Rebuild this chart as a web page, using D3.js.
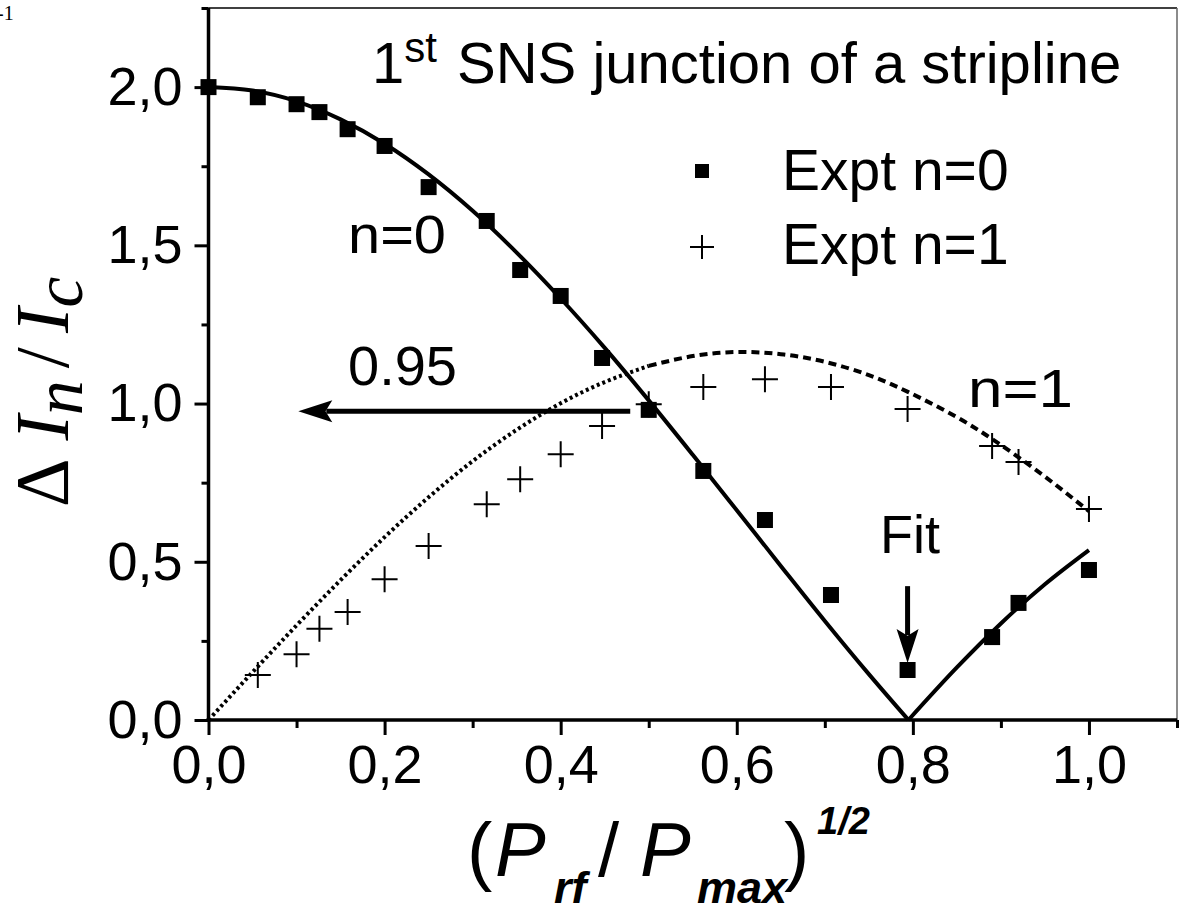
<!DOCTYPE html>
<html>
<head>
<meta charset="utf-8">
<script src="https://cdn.jsdelivr.net/npm/d3@7"></script>
<style>
  body { margin: 0; background: #fff; }
  svg { display: block; }
  .tick text { font-family: Arial, "Liberation Sans", sans-serif; font-size: 54px; fill: #000; }
</style>
</head>
<body>
<div id="chart"></div>
<script>
// measured points (x = sqrt(Prf/Pmax))
const xExpt = [0, 0.056, 0.1, 0.126, 0.158, 0.2, 0.25, 0.316, 0.354, 0.4, 0.447, 0.5, 0.562, 0.632, 0.707, 0.794, 0.89, 0.92, 1.0];
const exptN0 = [2.0, 1.968, 1.946, 1.921, 1.867, 1.814, 1.684, 1.577, 1.422, 1.340, 1.144, 0.98, 0.787, 0.632, 0.395, 0.158, 0.262, 0.37, 0.474];
const xExptN1 = [0.056, 0.1, 0.126, 0.158, 0.2, 0.25, 0.316, 0.354, 0.4, 0.447, 0.5, 0.562, 0.632, 0.707, 0.794, 0.89, 0.92, 1.0];
const exptN1 = [0.142, 0.208, 0.288, 0.341, 0.445, 0.55, 0.682, 0.761, 0.840, 0.929, 0.998, 1.052, 1.077, 1.052, 0.983, 0.866, 0.815, 0.667];

// fit curves
const xFit = [0, 0.05, 0.1, 0.15, 0.2, 0.25, 0.3, 0.35, 0.4, 0.45, 0.5, 0.55, 0.6, 0.65, 0.7, 0.75, 0.795, 0.85, 0.9, 0.95, 1.0];
const fitN0 = [2.0, 1.989, 1.955, 1.898, 1.821, 1.724, 1.609, 1.477, 1.332, 1.176, 1.010, 0.838, 0.663, 0.487, 0.313, 0.145, 0.0, 0.166, 0.305, 0.429, 0.537];
const fitN1 = [0, 0.151, 0.299, 0.442, 0.578, 0.704, 0.818, 0.917, 1.001, 1.068, 1.119, 1.150, 1.163, 1.156, 1.132, 1.090, 1.036, 0.957, 0.869, 0.769, 0.660];

const xTicks = [0, 0.2, 0.4, 0.6, 0.8, 1.0];
const yTicks = [0, 0.5, 1.0, 1.5, 2.0];

// annotation arrows (data coords)
const arrow095 = [[0.479, 0.976], [0.102, 0.976]];
const arrowFit = [[0.794, 0.423], [0.794, 0.18]];

const width = 1182, height = 911;
const font = 'Arial, "Liberation Sans", sans-serif';

const x = d3.scaleLinear().domain([0, 1.1]).range([208.5, 1177]);
const y = d3.scaleLinear().domain([0, 2.25]).range([720, 8]);
const fmt = d => d3.format(".1f")(d).replace(".", ",");

const svg = d3.create("svg")
    .attr("width", width)
    .attr("height", height);

// frame (top + right)
svg.append("line")
    .attr("x1", x(0)).attr("x2", x(1.1))
    .attr("y1", y(2.25)).attr("y2", y(2.25))
    .attr("stroke", "#000").attr("stroke-width", 1.5);
svg.append("line")
    .attr("x1", x(1.1)).attr("x2", x(1.1))
    .attr("y1", y(2.25)).attr("y2", y(0))
    .attr("stroke", "#666").attr("stroke-width", 1.5);

// minor ticks
svg.append("g")
    .attr("transform", `translate(0,${y(0)})`)
    .call(d3.axisBottom(x).tickValues(d3.range(0.1, 1.15, 0.2)).tickSize(8).tickFormat(""))
    .call(g => g.select(".domain").remove())
    .selectAll("line").attr("stroke-width", 3);
svg.append("g")
    .attr("transform", `translate(${x(0)},0)`)
    .call(d3.axisLeft(y).tickValues(d3.range(0.25, 2.3, 0.5)).tickSize(7).tickFormat(""))
    .call(g => g.select(".domain").remove())
    .selectAll("line").attr("stroke-width", 3);

// main axes
const xAxis = svg.append("g")
    .attr("transform", `translate(0,${y(0)})`)
    .call(d3.axisBottom(x).tickValues(xTicks).tickFormat(fmt).tickSize(15).tickSizeOuter(0).tickPadding(10));
const yAxis = svg.append("g")
    .attr("transform", `translate(${x(0)},0)`)
    .call(d3.axisLeft(y).tickValues(yTicks).tickFormat(fmt).tickSize(14).tickSizeOuter(0).tickPadding(12));
[xAxis, yAxis].forEach(g => {
    g.selectAll("line").attr("stroke-width", 3);
    g.select(".domain").attr("stroke-width", 3.5);
    g.selectAll("text").attr("font-family", null).attr("font-size", null);
});
xAxis.select(".domain").attr("d", `M${x(0) - 2},0H${x(1.1)}`);
yAxis.select(".domain").attr("d", `M0,${y(2.25)}V${y(0) + 2}`);

// fit n=0 (solid), split at the zero so the V stays sharp
const line = d3.line().x(d => x(d[0])).y(d => y(d[1])).curve(d3.curveMonotoneX);
const fit0 = xFit.map((v, i) => [v, fitN0[i]]);
const zeroIdx = fitN0.indexOf(0);
[fit0.slice(0, zeroIdx + 1), fit0.slice(zeroIdx)].forEach(seg => {
    svg.append("path")
        .attr("d", line(seg))
        .attr("fill", "none")
        .attr("stroke", "#000")
        .attr("stroke-width", 4);
});

// fit n=1 (dotted, coarser dashes towards the end)
const fit1 = xFit.map((v, i) => [v, fitN1[i]]);
const lineSmooth = d3.line().x(d => x(d[0])).y(d => y(d[1])).curve(d3.curveNatural);
svg.append("path")
    .attr("d", lineSmooth(fit1.filter(d => d[0] <= 0.5)))
    .attr("fill", "none")
    .attr("stroke", "#000")
    .attr("stroke-width", 4)
    .attr("stroke-dasharray", "3,3");
svg.append("path")
    .attr("d", lineSmooth(fit1.filter(d => d[0] >= 0.5)))
    .attr("fill", "none")
    .attr("stroke", "#000")
    .attr("stroke-width", 4)
    .attr("stroke-dasharray", "8,5");

// expt n=0 squares
const sq = 16;
svg.append("g")
    .selectAll("rect")
    .data(xExpt.map((v, i) => [v, exptN0[i]]))
    .enter().append("rect")
    .attr("x", d => x(d[0]) - sq / 2)
    .attr("y", d => y(d[1]) - sq / 2)
    .attr("width", sq)
    .attr("height", sq)
    .attr("fill", "#000");

// expt n=1 crosses
const cross = "M-13,0H13M0,-13V13";
svg.append("g")
    .selectAll("path")
    .data(xExptN1.map((v, i) => [v, exptN1[i]]))
    .enter().append("path")
    .attr("transform", d => `translate(${x(d[0])},${y(d[1])})`)
    .attr("d", cross)
    .attr("stroke", "#000")
    .attr("stroke-width", 2)
    .attr("fill", "none");

// arrows
function arrow(pts) {
    const [p0, p1] = pts.map(p => [x(p[0]), y(p[1])]);
    const ang = Math.atan2(p1[1] - p0[1], p1[0] - p0[0]);
    const len = 34, hw = 11;
    const bx = p1[0] - len * Math.cos(ang), by = p1[1] - len * Math.sin(ang);
    svg.append("line")
        .attr("x1", p0[0]).attr("y1", p0[1])
        .attr("x2", bx + 6 * Math.cos(ang)).attr("y2", by + 6 * Math.sin(ang))
        .attr("stroke", "#000").attr("stroke-width", 5);
    const nx = -Math.sin(ang) * hw, ny = Math.cos(ang) * hw;
    svg.append("path")
        .attr("d", `M${p1[0]},${p1[1]}L${bx + nx},${by + ny}L${bx + len * 0.2 * Math.cos(ang)},${by + len * 0.2 * Math.sin(ang)}L${bx - nx},${by - ny}Z`)
        .attr("fill", "#000");
}
arrow(arrow095);
arrow(arrowFit);

// text annotations
const txt = (tx, ty, s, size, w) => {
    const t = svg.append("text")
        .attr("x", tx).attr("y", ty)
        .attr("font-family", font)
        .attr("font-size", size)
        .text(s);
    if (w) t.attr("textLength", w).attr("lengthAdjust", "spacingAndGlyphs");
    return t;
};

const title = svg.append("text")
    .attr("x", 372).attr("y", 83)
    .attr("font-family", font)
    .attr("font-size", 58);
title.append("tspan").text("1");
title.append("tspan").attr("font-size", 42).attr("dy", -21).text("st");
title.append("tspan").attr("dy", 21).attr("dx", 4).text(" SNS junction of a stripline");

txt(348, 253, "n=0", 54, 98);
txt(348, 385, "0.95", 56);
txt(968, 407, "n=1", 54, 105);
txt(880, 553, "Fit", 54);

// legend
svg.append("rect")
    .attr("x", 695).attr("y", 164)
    .attr("width", 14).attr("height", 14)
    .attr("fill", "#000");
svg.append("path")
    .attr("transform", "translate(702,247)")
    .attr("d", "M-12,0H12M0,-12V12")
    .attr("stroke", "#000").attr("stroke-width", 2);
txt(782, 190, "Expt n=0", 57);
txt(782, 264, "Expt n=1", 57);

// axis titles
const xl = svg.append("text")
    .attr("y", 876)
    .attr("font-family", font)
    .attr("font-size", 76);
xl.append("tspan").attr("x", 467).text("(");
xl.append("tspan").attr("x", 495).attr("font-style", "italic").text("P");
xl.append("tspan").attr("x", 554).attr("font-style", "italic").attr("font-weight", "bold").attr("font-size", 45).attr("dy", 27).text("rf");
xl.append("tspan").attr("x", 598).attr("dy", -27).text("/");
xl.append("tspan").attr("x", 640).attr("font-style", "italic").text("P");
xl.append("tspan").attr("x", 697).attr("font-style", "italic").attr("font-weight", "bold").attr("font-size", 45).attr("dy", 27).text("max");
xl.append("tspan").attr("x", 784).attr("dy", -27).text(")");
xl.append("tspan").attr("x", 817).attr("font-style", "italic").attr("font-weight", "bold").attr("font-size", 38).attr("dy", -42).text("1/2");

const yl = svg.append("text")
    .attr("transform", "translate(68,392) rotate(-90)")
    .attr("text-anchor", "middle")
    .attr("font-family", '"Liberation Serif", "Times New Roman", serif')
    .attr("font-size", 76);
yl.append("tspan").text("\u0394");
yl.append("tspan").attr("font-style", "italic").attr("dx", 18).text("I");
yl.append("tspan").attr("font-style", "italic").attr("font-size", 70).attr("dy", 14).text("n");
yl.append("tspan").attr("dy", -14).attr("dx", 12).text("/");
yl.append("tspan").attr("font-style", "italic").attr("dx", 14).text("I");
yl.append("tspan").attr("font-style", "italic").attr("font-size", 70).attr("dy", 14).text("c");

// cropped label fragment at the corner
svg.append("text")
    .attr("x", -3).attr("y", 20)
    .attr("font-family", '"Liberation Serif", serif')
    .attr("font-size", 20)
    .text("-1");

document.getElementById("chart").appendChild(svg.node());
</script>
</body>
</html>
